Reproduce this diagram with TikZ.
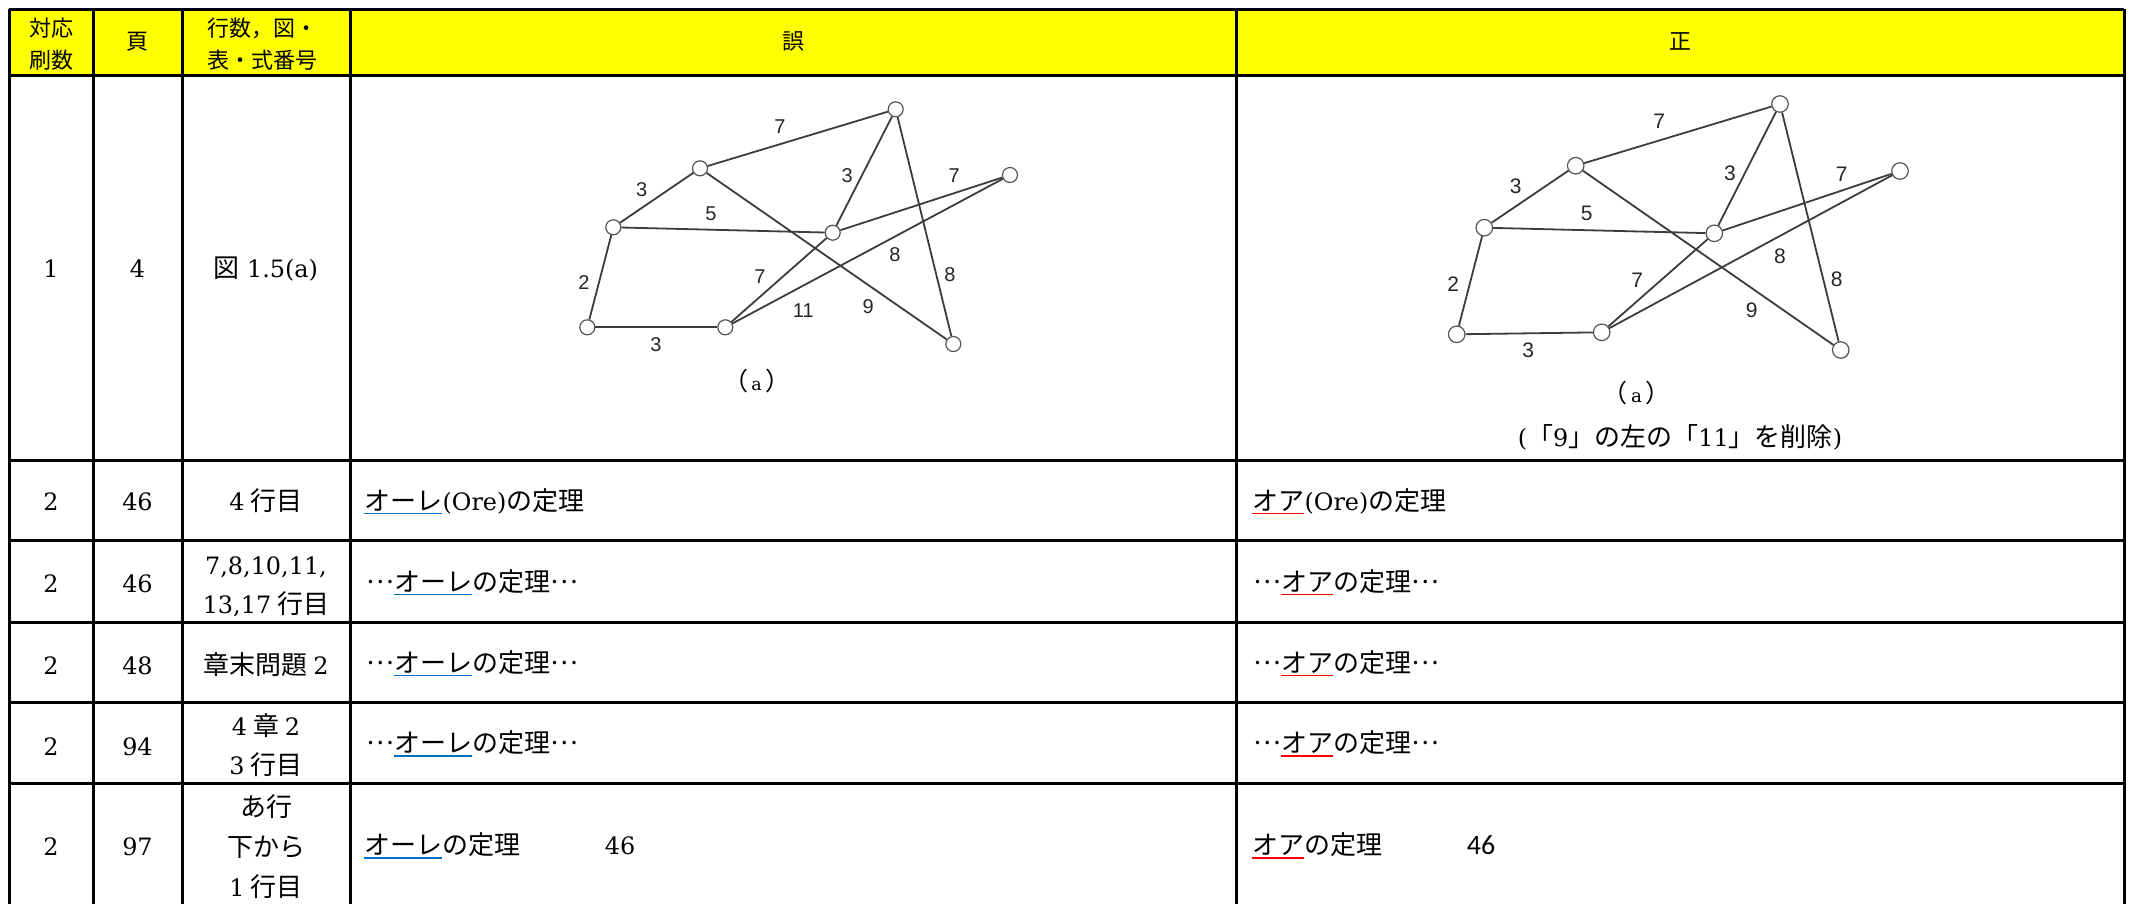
\documentclass[tikz,border=0pt]{standalone}
\usepackage{fontspec}
\setmainfont{DejaVu Serif}[Scale=0.92]
\newfontfamily\jp{Noto Sans CJK JP}
\newfontfamily\lsans{Liberation Sans}
\newfontfamily\carl{Carlito}
\newcommand\bodyfs{\fontsize{26}{31}\selectfont}
\newcommand\headfs{\fontsize{22}{30}\selectfont}
\newcommand\midell{\raisebox{0.3em}{…}}
\definecolor{hdyellow}{HTML}{FFFF00}
\definecolor{ulblue}{HTML}{0070C0}
\definecolor{ulred}{HTML}{FF0000}
\definecolor{gline}{HTML}{3C3C3C}
\definecolor{gcirc}{HTML}{555555}
\tikzset{
  tline/.style={line width=3pt, draw=black},
  hd/.style={inner sep=0pt, anchor=base, font=\jp\headfs},
  tc/.style={inner sep=0pt, anchor=base, font=\bodyfs},
  tl/.style={inner sep=0pt, anchor=base west, font=\bodyfs},
  capt/.style={inner sep=0pt, anchor=base, font=\fontsize{25}{25}\selectfont},
  ulb/.style={draw=ulblue, line width=1.8pt},
  ulr/.style={draw=ulred, line width=1.8pt},
  gnodeL/.style={circle, draw=gcirc, fill=white, line width=1.2pt, minimum size=15pt, inner sep=0pt},
  gnodeR/.style={circle, draw=gcirc, fill=white, line width=1.2pt, minimum size=16.5pt, inner sep=0pt},
  gedge/.style={draw=gline, line width=1.8pt},
  glabL/.style={inner sep=0pt, font=\lsans\fontsize{20}{20}\selectfont, text=black!85},
  glabR/.style={inner sep=0pt, font=\lsans\fontsize{21}{21}\selectfont, text=black!85},
}
\begin{document}
\begin{tikzpicture}[x=1pt,y=-1pt]
\useasboundingbox (0,0) rectangle (2129,903);
\fill[white] (0,0) rectangle (2129,903);
% header background
\fill[hdyellow] (9,9) rectangle (2124,75);
% table lines
\foreach \yy in {9,75,460,540,622,702,783} \draw[tline] (9,\yy) -- (2124,\yy);
\foreach \xx in {9,93,182,350,1236,2124} \draw[tline] (\xx,9) -- (\xx,905);

% header texts
\node[hd] (h1a) at (51,36.7) {対応};
\node[hd] (h1b) at (51,68) {刷数};
\node[hd] (h2) at (137.5,49) {頁};
\node[hd] (h3a) at (262,36.7) {行数，図・};
\node[hd] (h3b) at (262,68) {表・式番号};
\node[hd] (h4) at (793,49) {誤};
\node[hd] (h5) at (1680,49) {正};

% row 1
\node[tc] (r1c1) at (51,277) {1};
\node[tc] (r1c2) at (137.5,277) {4};
\node[tc] (r1c3) at (266,277) {{\jp 図}\hspace{0.3em}1.5(a)};

% row 1 left graph
\node[gnodeL] (LA) at (895.7,109.3) {};
\node[gnodeL] (LB) at (700,168.3) {};
\node[gnodeL] (LC) at (613.3,227.3) {};
\node[gnodeL] (LD) at (832.7,232.7) {};
\node[gnodeL] (LE) at (1010,175) {};
\node[gnodeL] (LF) at (587.3,327.3) {};
\node[gnodeL] (LG) at (725.3,327.3) {};
\node[gnodeL] (LH) at (953.3,344) {};
\draw[gedge] (LA) -- (LB);
\draw[gedge] (LB) -- (LC);
\draw[gedge] (LC) -- (LD);
\draw[gedge] (LC) -- (LF);
\draw[gedge] (LF) -- (LG);
\draw[gedge] (LB) -- (LH);
\draw[gedge] (LA) -- (LD);
\draw[gedge] (LA) -- (LH);
\draw[gedge] (LD) -- (LE);
\draw[gedge] (LG) -- (LD);
\draw[gedge] (LG) -- (LE);
\node[glabL] (Ll1) at (780,126.7) {7};
\node[glabL] (Ll2) at (641.7,189.3) {3};
\node[glabL] (Ll3) at (711,214) {5};
\node[glabL] (Ll4) at (847.3,176) {3};
\node[glabL] (Ll5) at (954.3,176) {7};
\node[glabL] (Ll6) at (895,254.3) {8};
\node[glabL] (Ll7) at (950,275) {8};
\node[glabL] (Ll8) at (584,282.7) {2};
\node[glabL] (Ll9) at (760,276.7) {7};
\node[glabL] (Ll10) at (803.3,310.7) {11};
\node[glabL] (Ll11) at (868.3,306.7) {9};
\node[glabL] (Ll12) at (656,345) {3};
\node[capt] (Lcap) at (756.7,390) {{\jp （}\hspace{0.15em}{\fontsize{19}{19}\selectfont a}\hspace{0.15em}{\jp ）}};

% row 1 right graph
\node[gnodeR] (RA) at (1780,104) {};
\node[gnodeR] (RB) at (1575.7,165.7) {};
\node[gnodeR] (RC) at (1484.3,227.7) {};
\node[gnodeR] (RD) at (1714.3,233.3) {};
\node[gnodeR] (RE) at (1900,171) {};
\node[gnodeR] (RF) at (1456.7,334.3) {};
\node[gnodeR] (RG) at (1601.7,332.3) {};
\node[gnodeR] (RH) at (1840.7,350) {};
\draw[gedge] (RA) -- (RB);
\draw[gedge] (RB) -- (RC);
\draw[gedge] (RC) -- (RD);
\draw[gedge] (RC) -- (RF);
\draw[gedge] (RF) -- (RG);
\draw[gedge] (RB) -- (RH);
\draw[gedge] (RA) -- (RD);
\draw[gedge] (RA) -- (RH);
\draw[gedge] (RD) -- (RE);
\draw[gedge] (RG) -- (RD);
\draw[gedge] (RG) -- (RE);
\node[glabR] (Rl1) at (1659.3,121.7) {7};
\node[glabR] (Rl2) at (1515.7,186) {3};
\node[glabR] (Rl3) at (1586.7,213.3) {5};
\node[glabR] (Rl4) at (1730,173.3) {3};
\node[glabR] (Rl5) at (1841.7,174) {7};
\node[glabR] (Rl6) at (1780,256) {8};
\node[glabR] (Rl7) at (1836.7,279) {8};
\node[glabR] (Rl8) at (1453.3,284) {2};
\node[glabR] (Rl9) at (1637.3,280) {7};
\node[glabR] (Rl10) at (1751.7,310) {9};
\node[glabR] (Rl11) at (1528.3,350.7) {3};
\node[capt] (Rcap) at (1636.7,402) {{\jp （}\hspace{0.15em}{\fontsize{20}{20}\selectfont a}\hspace{0.15em}{\jp ）}};
\node[tc] (Rnote) at (1680,446) {({\jp 「}9{\jp 」の左の「}11{\jp 」を削除})};

% row 2
\node[tc] (r2c1) at (51,510) {2};
\node[tc] (r2c2) at (137.5,510) {46};
\node[tc] (r2c3) at (266,510) {4\hspace{0.25em}{\jp 行目}};
\node[tl] (r2La) at (364,510) {\jp オーレ};
\node[tl] (r2Lb) at (r2La.base east) {(Ore){\jp の定理}};
\draw[ulb] ([yshift=-3.5pt]r2La.base west) -- ([yshift=-3.5pt]r2La.base east);
\node[tl] (r2Ra) at (1252,510) {\jp オア};
\node[tl] (r2Rb) at (r2Ra.base east) {(Ore){\jp の定理}};
\draw[ulr] ([yshift=-3.5pt]r2Ra.base west) -- ([yshift=-3.5pt]r2Ra.base east);

% row 3
\node[tc] (r3c1) at (51,592) {2};
\node[tc] (r3c2) at (137.5,592) {46};
\node[tc] (r3c3a) at (266,574) {7,8,10,11,};
\node[tc] (r3c3b) at (266,613) {13,17\hspace{0.25em}{\jp 行目}};
\node[tl] (r3La) at (366,591) {\jp\midell};
\node[tl] (r3Lb) at (r3La.base east) {\jp オーレ};
\node[tl] (r3Lc) at (r3Lb.base east) {\jp の定理\midell};
\draw[ulb] ([yshift=-3.5pt]r3Lb.base west) -- ([yshift=-3.5pt]r3Lb.base east);
\node[tl] (r3Ra) at (1253,591) {\jp\midell};
\node[tl] (r3Rb) at (r3Ra.base east) {\jp オア};
\node[tl] (r3Rc) at (r3Rb.base east) {\jp の定理\midell};
\draw[ulr] ([yshift=-3.5pt]r3Rb.base west) -- ([yshift=-3.5pt]r3Rb.base east);

% row 4
\node[tc] (r4c1) at (51,674) {2};
\node[tc] (r4c2) at (137.5,674) {48};
\node[tc] (r4c3) at (266,674) {{\jp 章末問題}\hspace{0.25em}2};
\node[tl] (r4La) at (366,672) {\jp\midell};
\node[tl] (r4Lb) at (r4La.base east) {\jp オーレ};
\node[tl] (r4Lc) at (r4Lb.base east) {\jp の定理\midell};
\draw[ulb] ([yshift=-3.5pt]r4Lb.base west) -- ([yshift=-3.5pt]r4Lb.base east);
\node[tl] (r4Ra) at (1253,672) {\jp\midell};
\node[tl] (r4Rb) at (r4Ra.base east) {\jp オア};
\node[tl] (r4Rc) at (r4Rb.base east) {\jp の定理\midell};
\draw[ulr] ([yshift=-3.5pt]r4Rb.base west) -- ([yshift=-3.5pt]r4Rb.base east);

% row 5
\node[tc] (r5c1) at (51,755) {2};
\node[tc] (r5c2) at (137.5,755) {94};
\node[tc] (r5c3a) at (266,735.5) {4\hspace{0.25em}{\jp 章}\hspace{0.25em}2};
\node[tc] (r5c3b) at (266,774.5) {3\hspace{0.25em}{\jp 行目}};
\node[tl] (r5La) at (366,752.5) {\jp\midell};
\node[tl] (r5Lb) at (r5La.base east) {\jp オーレ};
\node[tl] (r5Lc) at (r5Lb.base east) {\jp の定理\midell};
\draw[ulb] ([yshift=-3.5pt]r5Lb.base west) -- ([yshift=-3.5pt]r5Lb.base east);
\node[tl] (r5Ra) at (1253,752.5) {\jp\midell};
\node[tl] (r5Rb) at (r5Ra.base east) {\jp オア};
\node[tl] (r5Rc) at (r5Rb.base east) {\jp の定理\midell};
\draw[ulr] ([yshift=-3.5pt]r5Rb.base west) -- ([yshift=-3.5pt]r5Rb.base east);

% row 6
\node[tc] (r6c1) at (51,855.5) {2};
\node[tc] (r6c2) at (137.5,855.5) {97};
\node[tc, font=\jp\bodyfs] (r6c3a) at (266,816) {あ行};
\node[tc, font=\jp\bodyfs] (r6c3b) at (266,856) {下から};
\node[tc] (r6c3c) at (266,896) {1\hspace{0.25em}{\jp 行目}};
\node[tl] (r6La) at (364,854.5) {\jp オーレ};
\node[tl] (r6Lb) at (r6La.base east) {\jp の定理};
\draw[ulb] ([yshift=-3.5pt]r6La.base west) -- ([yshift=-3.5pt]r6La.base east);
\node[tc] (r6Ln) at (620,854.5) {46};
\node[tl] (r6Ra) at (1252,854.5) {\jp オア};
\node[tl] (r6Rb) at (r6Ra.base east) {\jp の定理};
\draw[ulr] ([yshift=-3.5pt]r6Ra.base west) -- ([yshift=-3.5pt]r6Ra.base east);
\node[tc, font=\carl\fontsize{28}{28}\selectfont] (r6Rn) at (1481,854.5) {46};
\end{tikzpicture}
\end{document}
